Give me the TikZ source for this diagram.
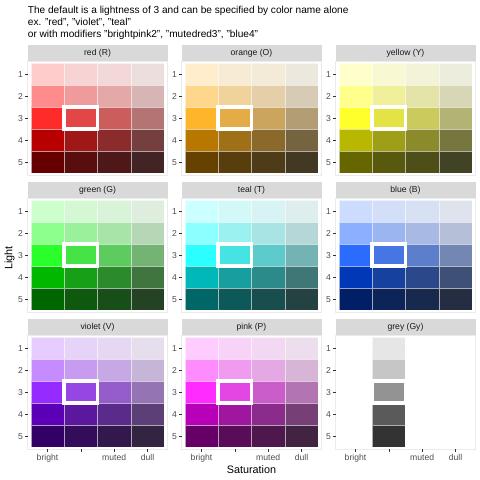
\documentclass[tikz,border=0pt]{standalone}
\usepackage{fontspec}
\setmainfont{Liberation Sans}
\usepackage{tikz}
\usetikzlibrary{positioning}
\usepackage{xcolor}
\definecolor{hueR}{RGB}{255,0,0}
\definecolor{hueO}{RGB}{255,166,0}
\definecolor{hueY}{RGB}{255,255,0}
\definecolor{hueG}{RGB}{0,255,0}
\definecolor{hueT}{RGB}{0,255,255}
\definecolor{hueB}{RGB}{0,78,255}
\definecolor{hueV}{RGB}{128,0,255}
\definecolor{hueP}{RGB}{255,0,255}
\definecolor{grey1}{HTML}{E6E6E6}
\definecolor{grey2}{HTML}{C6C6C6}
\definecolor{grey3}{HTML}{939393}
\definecolor{grey4}{HTML}{5A5A5A}
\definecolor{grey5}{HTML}{333333}
\definecolor{stripbg}{HTML}{D9D9D9}
\definecolor{frameline}{HTML}{EBEBEB}
\definecolor{ticktext}{HTML}{4D4D4D}

\begin{document}
\begin{tikzpicture}[x=1pt,y=-1pt,
  titletext/.style={font=\fontsize{10.1}{12}\selectfont,inner sep=0pt,anchor=base west},
  strip/.style={fill=stripbg},
  striplab/.style={font=\fontsize{8.6}{10}\selectfont,text=black!90,inner sep=0pt},
  panelframe/.style={draw=frameline,line width=0.8pt},
  tile/.style={draw=white,draw opacity=0.6,line width=0.6pt},
  pick/.style={draw=white,line width=3.8pt},
  tickmark/.style={draw=black!80,line width=0.5pt},
  ticklab/.style={font=\fontsize{8.6}{10}\selectfont,text=ticktext,inner sep=0pt},
  axistitle/.style={font=\fontsize{10.8}{12}\selectfont,inner sep=0pt},
]
\useasboundingbox (0,0) rectangle (480,480);
\node[titletext] (title1) at (27.7,13.3) {The default is a lightness of 3 and can be specified by color name alone};
\node[titletext] (title2) at (27.7,25.3) {ex. "red", "violet", "teal"};
\node[titletext] (title3) at (27.7,37.3) {or with modifiers "brightpink2", "mutedred3", "blue4"};

\foreach \hue/\lab [count=\p from 0] in {R/red (R),O/orange (O),Y/yellow (Y),G/green (G),T/teal (T),B/blue (B),V/violet (V),P/pink (P),Gy/grey (Gy)}{
  \pgfmathsetmacro\px{27.5+154*mod(\p,3)}
  \pgfmathsetmacro\py{45+137*int(\p/3)}
  \fill[strip] (\px,\py) rectangle ++(140,16);
  \node[striplab] (strip\hue) at ({\px+70},{\py+8}) {\lab};
  \draw[panelframe] ({\px},{\py+16}) rectangle ++(140,114.4);
  \ifnum\p<8
    \foreach \l/\mx in {1/20!white,2/45!white,3/83!white,4/72!black,5/40!black}{
      \colorlet{lightmix}{hue\hue!\mx}
      \foreach \s/\m in {1/100,2/74,3/52,4/30}
        \filldraw[tile,fill=lightmix!\m!grey\l] ({\px+3.33+33.33*(\s-1)},{\py+18.2+22*(\l-1)}) rectangle ++(33.33,22);
    }
  \else
    \foreach \l in {1,...,5}
      \filldraw[tile,fill=grey\l] ({\px+36.66},{\py+18.2+22*(\l-1)}) rectangle ++(33.33,22);
  \fi
  % default lightness 3
  \draw[pick] ({\px+36.66},{\py+62.2}) rectangle ++(33.33,22);
  \foreach \l in {1,...,5}{
    \draw[tickmark] ({\px-2.75},{\py+29.2+22*(\l-1)}) -- ({\px},{\py+29.2+22*(\l-1)});
    \node[ticklab,anchor=east] (ylab\p\l) at ({\px-4.4},{\py+29.2+22*(\l-1)}) {\l};
  }
  \ifnum\p>5
    \foreach \s in {1,...,4}
      \draw[tickmark] ({\px+3.33+33.33*\s-16.67},{\py+130.4}) -- ++(0,2.75);
    \foreach \s/\t in {1/bright,3/muted,4/dull}
      \node[ticklab,anchor=base] (xlab\p\s) at ({\px+3.33+33.33*\s-16.67},{\py+141}) {\t};
  \fi
}
\node[axistitle] (xtitle) at (251.5,469.5) {Saturation};
\node[axistitle,rotate=90] (ytitle) at (9.5,258) {Light};
\end{tikzpicture}
\end{document}
